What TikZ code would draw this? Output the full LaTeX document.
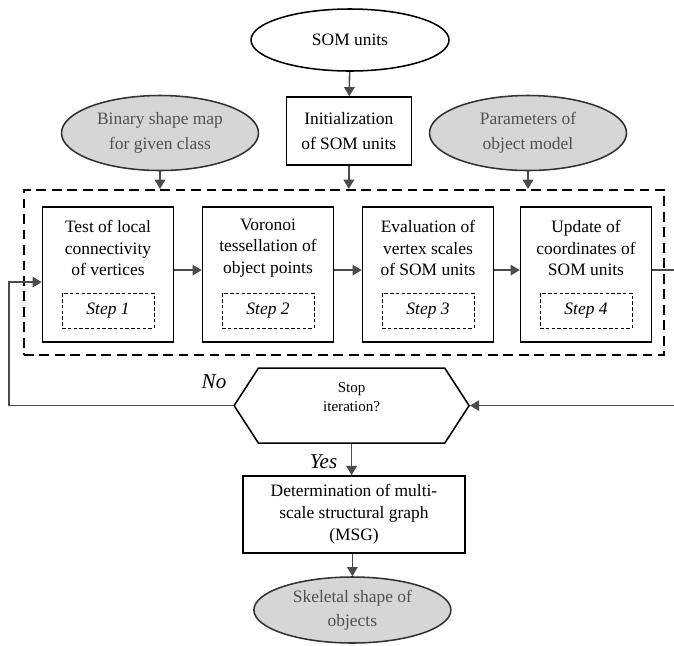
\documentclass[tikz,border=0pt]{standalone}
\usepackage{fontspec}
\setmainfont{Liberation Serif}
\definecolor{linegray}{RGB}{75,75,75}
\definecolor{shadegray}{RGB}{214,214,214}
\definecolor{textgray}{RGB}{80,80,80}
\usetikzlibrary{arrows.meta,positioning,shapes.geometric,shapes.symbols}

\begin{document}
\begin{tikzpicture}[
  wnode/.style={ellipse, draw=black, line width=1.1pt, fill=white, inner sep=0pt,
                minimum width=4.95cm, minimum height=1.55cm,
                font=\fontsize{12.4}{15}\selectfont},
  gnode/.style={ellipse, draw=black!80, line width=1.1pt, fill=shadegray, text=textgray,
                inner sep=0pt, minimum width=4.925cm, minimum height=1.875cm,
                align=center, font=\fontsize{12.4}{18}\selectfont},
  pbox/.style={rectangle, draw=black, line width=1.1pt, inner sep=0pt,
               minimum width=3.125cm, minimum height=1.7cm,
               align=center, font=\fontsize{12.4}{18}\selectfont},
  stepbox/.style={rectangle, draw=black, line width=1.1pt,
                  minimum width=3.275cm, minimum height=3.375cm},
  steptext/.style={align=center, inner sep=0pt, font=\fontsize{12.4}{15.3}\selectfont},
  stepid/.style={rectangle, draw=black, line width=0.7pt, dash pattern=on 2.5pt off 1.6pt,
                 minimum width=2.3cm, minimum height=0.875cm,
                 font=\fontsize{12.4}{15}\selectfont\itshape},
  loopbox/.style={rectangle, draw=black, line width=1.6pt, dash pattern=on 7pt off 4pt,
                  minimum width=16cm, minimum height=4.125cm},
  hexnode/.style={signal, signal to=east and west, signal pointer angle=114,
                  draw=black, line width=1.1pt, inner sep=0pt, text depth=0.45cm,
                  minimum width=5.875cm, minimum height=1.875cm,
                  align=center, font=\fontsize{10.7}{13.5}\selectfont},
  lbl/.style={inner sep=0pt, font=\fontsize{15}{18}\selectfont\itshape},
  arr/.style={-{Triangle[length=6.5pt,width=7.5pt]}, draw=linegray, line width=1.1pt}
]
\useasboundingbox (0,0) rectangle (16.85,-16.125);

% Inputs
\node[wnode] (som)    at (8.75,-1.0)   {SOM units};
\node[pbox]  (init)   at (8.72,-3.275) {Initialization\\of SOM units};
\node[gnode] (binmap) at (4.0,-3.325)  {Binary shape map\\for given class};
\node[gnode] (params) at (13.2,-3.325) {Parameters of\\object model};

% Iteration block
\node[loopbox] (loop) at (8.6,-6.8125) {};

\node[stepbox] (s1) at (2.7,-6.8625)  {};
\node[stepbox] (s2) at (6.7,-6.8625)  {};
\node[stepbox] (s3) at (10.7,-6.8625) {};
\node[stepbox] (s4) at (14.65,-6.8625) {};

\node[steptext] (t1) at (2.7,-6.2)   {Test of local\\connectivity\\of vertices};
\node[steptext] (t2) at (6.7,-6.2)   {Voronoi\\tessellation of\\object points};
\node[steptext] (t3) at (10.7,-6.2)  {Evaluation of\\vertex scales\\of SOM units};
\node[steptext] (t4) at (14.65,-6.2) {Update of\\coordinates of\\SOM units};

\node[stepid, above=0.35cm of s1.south] (i1) {Step 1};
\node[stepid, above=0.35cm of s2.south] (i2) {Step 2};
\node[stepid, above=0.35cm of s3.south] (i3) {Step 3};
\node[stepid, above=0.35cm of s4.south] (i4) {Step 4};

% Decision and output
\node[hexnode] (stop) at (8.79,-10.14) {Stop\\iteration?};
\node[lbl] (no)  at (5.35,-9.55)  {No};
\node[lbl] (yes) at (8.09,-11.55) {Yes};

\node[pbox, minimum width=5.55cm, minimum height=1.925cm,
      font=\fontsize{12.4}{15.6}\selectfont] (msg) at (8.85,-12.86)
  {Determination of multi-\\scale structural graph\\(MSG)};
\node[gnode, minimum height=1.65cm, font=\fontsize{12.4}{17}\selectfont] (skel) at (8.81,-15.25)
  {Skeletal shape of\\objects};

\coordinate (lft) at (0.225,-10.1);
\coordinate (rgt) at (17.0,-10.1);

% Arrows
\draw[arr] (som) -- (init);
\draw[arr] (init) -- (init |- loop.north);
\draw[arr] (binmap.south) -- (binmap.south |- loop.north);
\draw[arr] (params.south) -- (params.south |- loop.north);

\draw[arr] ([yshift=0.11cm]s1.east) -- ([yshift=0.11cm]s2.west);
\draw[arr] ([yshift=0.11cm]s2.east) -- ([yshift=0.11cm]s3.west);
\draw[arr] ([yshift=0.11cm]s3.east) -- ([yshift=0.11cm]s4.west);

\draw[arr] ([yshift=0.11cm]s4.east) -- ([yshift=0.11cm]s4.east -| rgt) |- (stop.east);
\draw[arr] (stop.west) -- (stop.west -| lft) |- ([yshift=-0.19cm]s1.west);

\draw[arr] (stop.south) -- (stop.south |- msg.north);
\draw[arr] (msg.south -| skel.north) -- (skel.north);
\end{tikzpicture}
\end{document}
